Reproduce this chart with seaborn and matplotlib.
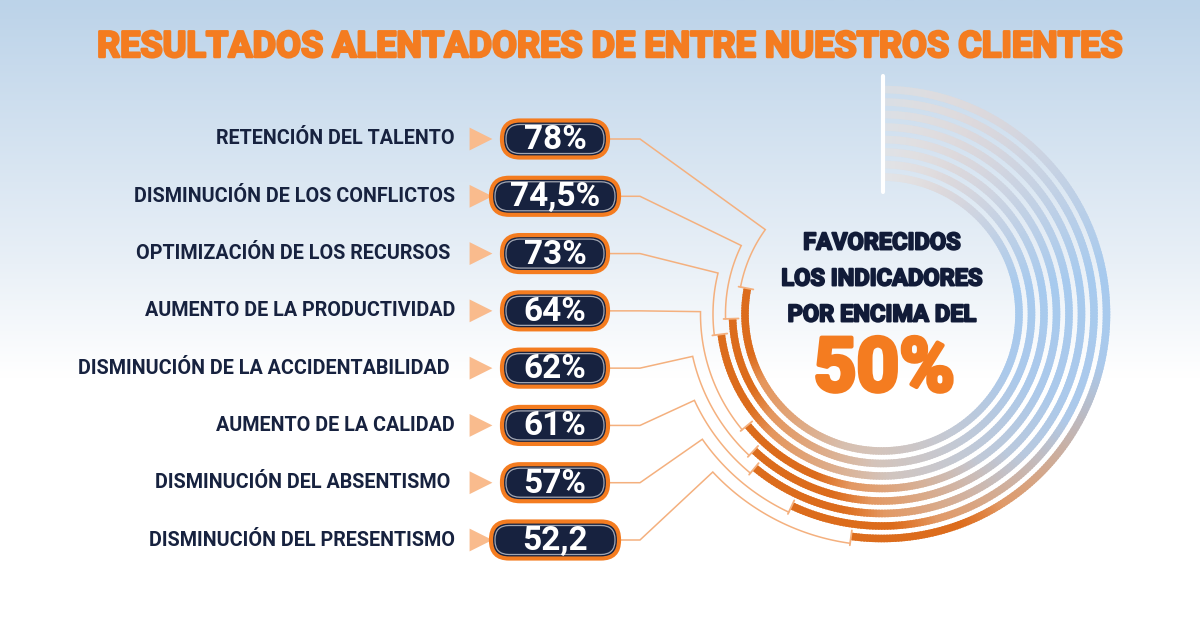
import numpy as np
import matplotlib
matplotlib.use("Agg")
import matplotlib.pyplot as plt
import matplotlib.patheffects as pe
import seaborn as sns
import pandas as pd
from matplotlib.collections import LineCollection
from matplotlib.patches import FancyBboxPatch
from matplotlib.colors import to_rgb

# ---------------- data ----------------
title = "RESULTADOS ALENTADORES DE ENTRE NUESTROS CLIENTES"
categories = ["RETENCIÓN DEL TALENTO", "DISMINUCIÓN DE LOS CONFLICTOS",
              "OPTIMIZACIÓN DE LOS RECURSOS ", "AUMENTO DE LA PRODUCTIVIDAD",
              "DISMINUCIÓN DE LA ACCIDENTABILIDAD ", "AUMENTO DE LA CALIDAD",
              "DISMINUCIÓN DEL ABSENTISMO ", "DISMINUCIÓN DEL PRESENTISMO"]
values = [78, 74.5, 73, 64, 62, 61, 57, 52.2]
value_labels = ["78%", "74,5%", "73%", "64%", "62%", "61%", "57%", "52,2"]
center_lines = ["FAVORECIDOS", "LOS INDICADORES", "POR ENCIMA DEL"]
center_value = "50%"

# ---------------- style ----------------
sns.set_theme(style="white")
plt.rcParams['font.family'] = ['Roboto', 'DejaVu Sans']

NAVY = "#17223f"
ORANGE = "#f47c20"
DARK_OR = "#dc6c1c"
LEADER = "#f4b07e"

fig = plt.figure(figsize=(12, 6.28), dpi=100)
ax = fig.add_axes([0, 0, 1, 1])
ax.set_xlim(0, 1200)
ax.set_ylim(628, 0)
ax.axis("off")

# background gradient
yy = np.linspace(0, 1, 300)
top = np.array(to_rgb("#bcd3e9"))
mid = np.array(to_rgb("#e9f0f7"))
bot = np.array([1.0, 1.0, 1.0])
grad = np.zeros((300, 1, 3))
for k, t in enumerate(yy):
    if t < 0.42:
        c = top + (mid - top) * (t / 0.42)
    elif t < 0.6:
        c = mid + (bot - mid) * ((t - 0.42) / 0.18)
    else:
        c = bot
    grad[k, 0] = c
ax.imshow(grad, extent=[0, 1200, 628, 0], aspect="auto", zorder=0)

def bg_at(y):
    t = y / 628
    if t < 0.42:
        return top + (mid - top) * (t / 0.42)
    elif t < 0.6:
        return mid + (bot - mid) * ((t - 0.42) / 0.18)
    return bot

heavy = lambda col, w=1.6: [pe.withStroke(linewidth=w, foreground=col)]

# ---------------- title ----------------
ax.text(609, 47, title, ha="center", va="center", fontsize=26,
        fontweight="bold", color=ORANGE, zorder=5, path_effects=heavy(ORANGE, 1.8))

# ---------------- rows ----------------
n = len(values)
row_y = np.linspace(139, 540, n)
df = pd.DataFrame({"category": categories, "val": values, "lab": value_labels, "y": row_y})

for _, r in df.iterrows():
    ax.text(455, r["y"], r["category"], ha="right", va="center", fontsize=14.2,
            fontweight="bold", color=NAVY, zorder=5)

# triangles via seaborn
tri = pd.DataFrame({"x": [481] * n, "y": row_y})
sns.scatterplot(data=tri, x="x", y="y", marker=">", s=270, color="#f9bb8d",
                edgecolor="none", ax=ax, zorder=4, legend=False)
ax.set_xlim(0, 1200)
ax.set_ylim(628, 0)
ax.set_xlabel("")
ax.set_ylabel("")

pill_cx = 555
pill_h = 37
pill_right = []
for _, r in df.iterrows():
    w = 106 if len(r["lab"]) <= 3 else 128
    y = r["y"]
    box = FancyBboxPatch((pill_cx - w / 2, y - pill_h / 2), w, pill_h,
                         boxstyle="round,pad=0,rounding_size=18",
                         fc=NAVY, ec=ORANGE, lw=3, zorder=6)
    ax.add_patch(box)
    inner = FancyBboxPatch((pill_cx - w / 2 + 4, y - pill_h / 2 + 4), w - 8, pill_h - 8,
                           boxstyle="round,pad=0,rounding_size=14",
                           fc="none", ec="white", lw=0.9, alpha=0.6, zorder=7)
    ax.add_patch(inner)
    ax.text(pill_cx, y + 1, r["lab"], ha="center", va="center", fontsize=24,
            fontweight="bold", color="white", zorder=8)
    pill_right.append(pill_cx + w / 2 + 2)

# ---------------- concentric arcs ----------------
cx, cy = 882, 314
r0, dr = 137, 12.5

def pos(theta_deg, rad):
    t = np.deg2rad(theta_deg)
    return cx + rad * np.sin(t), cy - rad * np.cos(t)

base_stops = [(0, "#eedfd5"), (35, "#d6d6de"), (80, "#a7caee"), (115, "#abc9eb"),
              (150, "#c3c9d5"), (185, "#d5c3b8"), (240, "#e0b28f"), (290, "#e4ad84")]
bs_ang = np.array([s[0] for s in base_stops])
bs_col = np.array([to_rgb(s[1]) for s in base_stops])

def base_color(theta):
    return np.array([np.interp(theta, bs_ang, bs_col[:, c]) for c in range(3)]).T

dark = np.array(to_rgb(DARK_OR))
mid_or = np.array(to_rgb("#e68f50"))

for i, v in enumerate(values):
    rad = r0 + i * dr
    T = v / 100 * 360
    th = np.linspace(0, T, 260)
    step = th[1] - th[0]
    th_a = th[:-1]
    th_b = np.minimum(th[1:] + step * 0.6, T)
    xa, ya = pos(th_a, rad)
    xb, yb = pos(th_b, rad)
    segs = np.stack([np.column_stack([xa, ya]), np.column_stack([xb, yb])], axis=1)
    thm = (th[:-1] + th[1:]) / 2
    cols = base_color(thm)
    d = T - thm
    w1 = np.clip((85 - d) / 55, 0, 1)[:, None]
    cols = cols * (1 - w1) + mid_or * w1
    w2 = np.clip((40 - d) / 12, 0, 1)[:, None]
    cols = cols * (1 - w2) + dark * w2
    alpha = np.clip(0.35 + thm / 40, 0, 1)[:, None]
    bgs = np.array([bg_at(yv) for yv in (ya + yb) / 2])
    cols = cols * alpha + bgs * (1 - alpha)
    lc = LineCollection(segs, colors=cols, linewidths=5.4, capstyle="butt",
                        antialiaseds=True, zorder=3)
    ax.add_collection(lc)

# white start marker
ax.plot([883, 883], [76, 192], color="white", lw=3, solid_capstyle="round", zorder=4)

# ---------------- leader lines ----------------
for i, v in enumerate(values):
    rad = r0 + i * dr
    T = v / 100 * 360
    y = row_y[i]
    x0 = pill_right[i]
    ex = 640
    phi = np.rad2deg(np.arctan2(ex - cx, cy - y)) % 360
    rl = rad + 7
    arc_t = np.linspace(phi, T, 80)
    axs, ays = pos(arc_t, rl)
    tx0, ty0 = pos(T, rad - 6)
    tx1, ty1 = pos(T, rad + 9)
    xs = [x0, ex] + list(axs)
    ys = [y, y] + list(ays)
    ax.plot(xs, ys, color=LEADER, lw=1.1, zorder=2, solid_joinstyle="miter")
    ax.plot([tx0, tx1], [ty0, ty1], color=LEADER, lw=1.3, zorder=4)

# ---------------- center text ----------------
for k, line in enumerate(center_lines):
    ax.text(882, 243 + k * 36, line, ha="center", va="center", fontsize=17,
            fontweight="bold", color="#111b38", zorder=5, path_effects=heavy("#111b38", 1.4))
ax.text(884, 371, center_value, ha="center", va="center", fontsize=54,
        fontweight="bold", color=ORANGE, zorder=5, path_effects=heavy(ORANGE, 3))

fig.savefig("out.png", dpi=100)
